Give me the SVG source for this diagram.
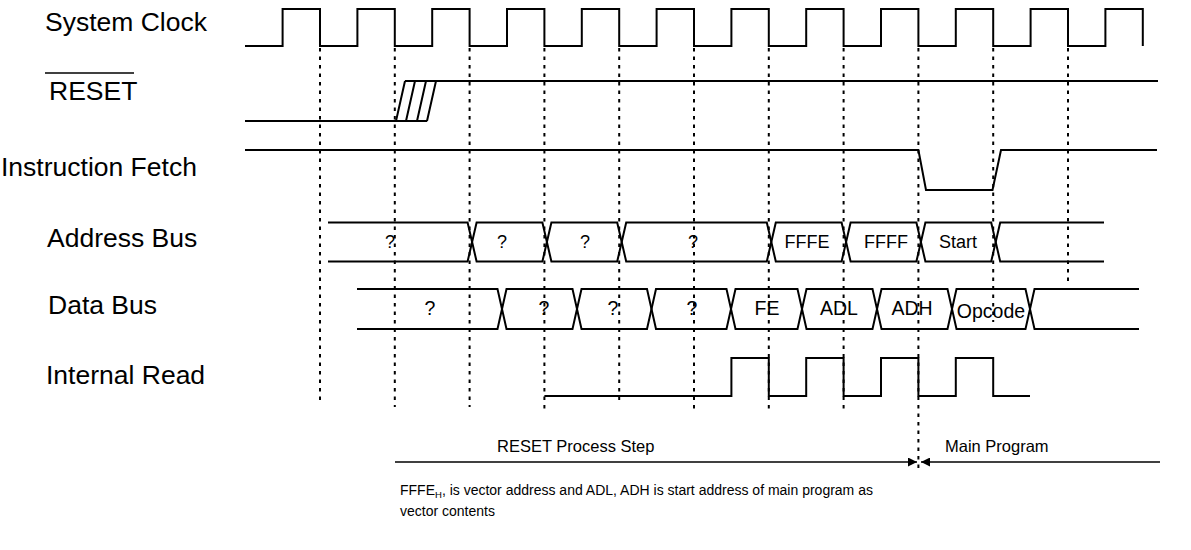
<svg xmlns="http://www.w3.org/2000/svg" width="1191" height="550" viewBox="0 0 1191 550">
<style>
.sig{fill:none;stroke:#000;stroke-width:2;stroke-linejoin:miter}
.dot{fill:none;stroke:#000;stroke-width:2;stroke-dasharray:3.5 5}
.lbl{font-family:"Liberation Sans",Arial,sans-serif;font-size:26.5px;fill:#000}
.bl{font-family:"Liberation Sans",Arial,sans-serif;font-size:18px;fill:#000;text-anchor:middle}
.dl{font-family:"Liberation Sans",Arial,sans-serif;font-size:19.5px;fill:#000;text-anchor:middle}
.sm{font-family:"Liberation Sans",Arial,sans-serif;font-size:16.5px;fill:#000}
.nt{font-family:"Liberation Sans",Arial,sans-serif;font-size:14px;fill:#000}
.ln{fill:none;stroke:#000;stroke-width:1.5}
</style>
<defs>
<marker id="ah" viewBox="0 0 10 10" refX="10" refY="5" markerWidth="9" markerHeight="9" markerUnits="userSpaceOnUse" orient="auto">
<path d="M0,0 L10,5 L0,10 Z" fill="#000"/>
</marker>
</defs>
<rect width="1191" height="550" fill="#fff"/>

<g id="guides">
<path class="dot" d="M320,48 V403 M394.8,48 V407 M469.6,48 V407 M544.4,48 V410 M619.2,48 V405 M694,48 V410 M768.8,48 V410 M843.6,48 V410 M918.4,48 V472 M993.2,48 V322 M1068,48 V285"/>
</g>

<g id="labels">
<text class="lbl" x="45" y="31">System Clock</text>
<line x1="45" y1="73" x2="134" y2="73" stroke="#000" stroke-width="1.5"/>
<text class="lbl" x="49" y="100">RESET</text>
<text class="lbl" x="1" y="176">Instruction Fetch</text>
<text class="lbl" x="47" y="247">Address Bus</text>
<text class="lbl" x="48" y="314">Data Bus</text>
<text class="lbl" x="46" y="384">Internal Read</text>
</g>

<g id="clock">
<path class="sig" d="M245,46 H282.6 V9 H320 V46 H357.4 V9 H394.8 V46 H432.2 V9 H469.6 V46 H507 V9 H544.4 V46 H581.8 V9 H619.2 V46 H656.6 V9 H694 V46 H731.4 V9 H768.8 V46 H806.2 V9 H843.6 V46 H881 V9 H918.4 V46 H955.8 V9 H993.2 V46 H1030.6 V9 H1068 V46 H1105.4 V9 H1142.8 V46"/>
</g>

<g id="reset">
<path class="sig" d="M245,121 H427 M405,81 H1158 M396,121 L405,81 M406,121 L415,81 M417,121 L426,81 M427,121 L436,81"/>
</g>

<g id="fetch">
<path class="sig" d="M245,150 H918.4 L926,190 H992.5 L1001,150 H1157"/>
</g>

<g id="address">
<path class="sig" d="M328,222.5 H467.6 L472.1,242 L467.6,261.5 H328"/>
<path class="sig" d="M476.6,222.5 H542.4 L546.9,242 L542.4,261.5 H476.6 L472.1,242 Z"/>
<path class="sig" d="M551.4,222.5 H617.2 L621.7,242 L617.2,261.5 H551.4 L546.9,242 Z"/>
<path class="sig" d="M626.2,222.5 H766.8 L771.3,242 L766.8,261.5 H626.2 L621.7,242 Z"/>
<path class="sig" d="M775.8,222.5 H841.6 L846.1,242 L841.6,261.5 H775.8 L771.3,242 Z"/>
<path class="sig" d="M850.6,222.5 H916.4 L920.9,242 L916.4,261.5 H850.6 L846.1,242 Z"/>
<path class="sig" d="M925.4,222.5 H991.2 L995.7,242 L991.2,261.5 H925.4 L920.9,242 Z"/>
<path class="sig" d="M1104,222.5 H1000.2 L995.7,242 L1000.2,261.5 H1104"/>
<text class="bl" x="390" y="248">?</text>
<text class="bl" x="502" y="248">?</text>
<text class="bl" x="585" y="248">?</text>
<text class="bl" x="693" y="248">?</text>
<text class="bl" x="807" y="248">FFFE</text>
<text class="bl" x="886" y="248">FFFF</text>
<text class="bl" x="958" y="248">Start</text>
</g>

<g id="data">
<path class="sig" d="M357,289 H497.5 L502,309 L497.5,329 H357"/>
<path class="sig" d="M506.5,289 H572.5 L577,309 L572.5,329 H506.5 L502,309 Z"/>
<path class="sig" d="M581.5,289 H647 L651.5,309 L647,329 H581.5 L577,309 Z"/>
<path class="sig" d="M656,289 H726.5 L731,309 L726.5,329 H656 L651.5,309 Z"/>
<path class="sig" d="M735.5,289 H797.5 L802,309 L797.5,329 H735.5 L731,309 Z"/>
<path class="sig" d="M806.5,289 H872.5 L877,309 L872.5,329 H806.5 L802,309 Z"/>
<path class="sig" d="M881.5,289 H947.5 L952,309 L947.5,329 H881.5 L877,309 Z"/>
<path class="sig" d="M956.5,289 H1025.5 L1030,309 L1025.5,329 H956.5 L952,309 Z"/>
<path class="sig" d="M1139,289 H1034.5 L1030,309 L1034.5,329 H1139"/>
<text class="dl" x="430" y="315">?</text>
<text class="dl" x="544" y="315">?</text>
<text class="dl" x="613" y="315">?</text>
<text class="dl" x="692" y="315">?</text>
<text class="dl" x="767" y="315">FE</text>
<text class="dl" x="839" y="315">ADL</text>
<text class="dl" x="912" y="315">ADH</text>
<text class="dl" x="991" y="318">Opcode</text>
</g>

<g id="internal-read">
<path class="sig" d="M544.4,396 H731.4 V358 H768.8 V396 H806.2 V358 H843.6 V396 H881 V358 H918.4 V396 H955.8 V358 H993.2 V396 H1030"/>
</g>

<g id="phases">
<line class="ln" x1="395" y1="462" x2="917" y2="462" marker-end="url(#ah)"/>
<line class="ln" x1="1160" y1="462" x2="921" y2="462" marker-end="url(#ah)"/>
<text class="sm" x="497" y="452">RESET Process Step</text>
<text class="sm" x="945" y="452">Main Program</text>
</g>

<g id="note">
<text class="nt" x="400" y="495">FFFE<tspan font-size="9.5" dy="3">H</tspan><tspan dy="-3">, is vector address and ADL, ADH is start address of main program as</tspan></text>
<text class="nt" x="400" y="516">vector contents</text>
</g>
</svg>
